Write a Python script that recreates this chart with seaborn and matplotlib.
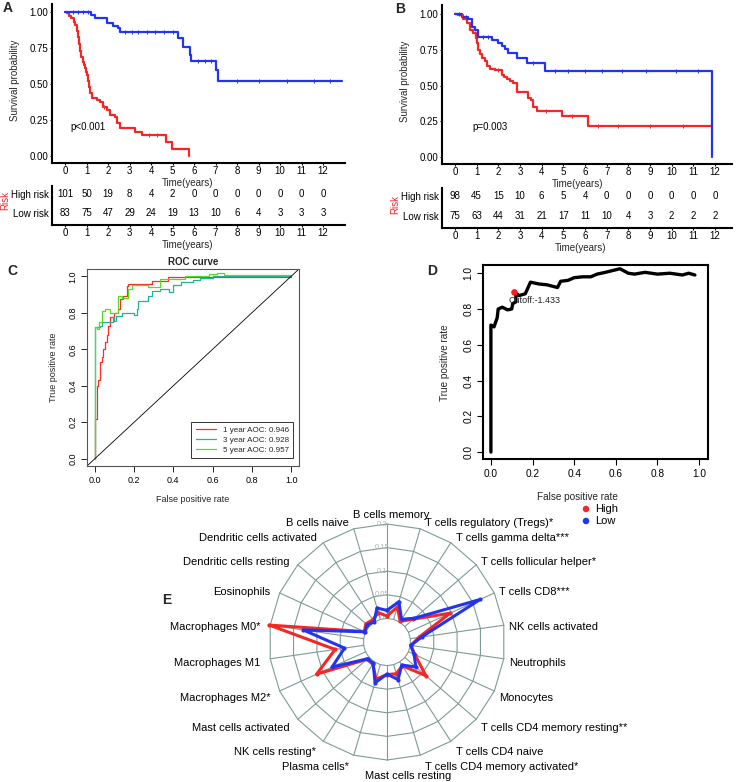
import numpy as np
import pandas as pd
import matplotlib
matplotlib.use('Agg')
import matplotlib.pyplot as plt
import seaborn as sns

sns.set_theme(style='white')
plt.rcParams['font.family'] = ['Liberation Sans', 'DejaVu Sans']
plt.rcParams['axes.unicode_minus'] = False

# ---------------- data ----------------
years = list(range(13))
A_high_risk = [101, 50, 19, 8, 4, 2, 0, 0, 0, 0, 0, 0, 0]
A_low_risk = [83, 75, 47, 29, 24, 19, 13, 10, 6, 4, 3, 3, 3]
B_high_risk = [98, 45, 15, 10, 6, 5, 4, 0, 0, 0, 0, 0, 0]
B_low_risk = [75, 63, 44, 31, 21, 17, 11, 10, 4, 3, 2, 2, 2]

A_high_t = [0, 0.10, 0.20, 0.30, 0.40, 0.47, 0.55, 0.60, 0.65, 0.70, 0.76, 0.82, 0.88, 0.93, 0.98,
            1.04, 1.08, 1.12, 1.16, 1.24, 1.47, 1.63, 1.78, 1.94, 2.09, 2.33, 2.40, 2.56, 3.26, 3.60,
            4.68, 4.99, 5.75]
A_high_s = [1.0, 0.99, 0.97, 0.956, 0.93, 0.91, 0.87, 0.83, 0.78, 0.73, 0.69, 0.655, 0.63, 0.608, 0.585,
            0.562, 0.52, 0.48, 0.435, 0.40, 0.389, 0.377, 0.343, 0.32, 0.285, 0.273, 0.23, 0.194, 0.167, 0.144,
            0.097, 0.049, 0.0]
A_low_t = [0, 1.19, 1.40, 1.94, 2.25, 2.48, 2.56, 5.27, 5.47, 5.81, 5.86, 7.01, 7.12, 12.87]
A_low_s = [1.0, 0.979, 0.956, 0.926, 0.905, 0.886, 0.862, 0.817, 0.759, 0.705, 0.66, 0.60, 0.522, 0.522]
A_low_cens = [0.35, 0.6, 0.85, 1.05, 2.8, 3.1, 3.4, 3.8, 4.2, 4.6, 5.0, 6.2, 6.5, 6.8, 8.0, 9.0, 10.3, 11.6, 12.3]
A_high_cens = [1.8, 3.9, 4.3]

B_high_t = [0, 0.15, 0.38, 0.54, 0.69, 0.85, 0.97, 1.03, 1.08, 1.15, 1.23, 1.38, 1.46, 1.61, 1.85,
            2.15, 2.25, 2.38, 2.55, 2.69, 2.85, 3.38, 3.50, 3.61, 3.77, 4.92, 6.15, 11.8]
B_high_s = [1.0, 0.99, 0.963, 0.94, 0.888, 0.865, 0.83, 0.80, 0.748, 0.72, 0.69, 0.67, 0.634, 0.615, 0.605,
            0.573, 0.56, 0.543, 0.53, 0.515, 0.457, 0.41, 0.40, 0.352, 0.324, 0.287, 0.217, 0.217]
B_low_t = [0, 0.31, 0.61, 0.77, 0.92, 1.08, 1.69, 2.0, 2.15, 2.30, 2.46, 2.85, 3.31, 4.15, 11.85]
B_low_s = [1.0, 0.98, 0.965, 0.911, 0.888, 0.841, 0.818, 0.795, 0.775, 0.753, 0.725, 0.69, 0.66, 0.60, 0.0]
B_low_cens = [0.2, 0.5, 1.3, 1.5, 3.6, 4.6, 5.2, 6.0, 6.8, 7.7, 8.8, 10.2, 11.2]
B_high_cens = [0.3, 0.9, 2.0, 4.2, 5.4, 6.6, 7.5, 9.0, 10.5]

roc1_fpr = [0, 0, 0.009, 0.017, 0.026, 0.034, 0.043, 0.051, 0.06, 0.068, 0.077, 0.10, 0.12, 0.128, 0.145,
            0.162, 0.17, 0.29, 0.374, 1.0]
roc1_tpr = [0, 0.22, 0.40, 0.43, 0.53, 0.555, 0.60, 0.64, 0.68, 0.73, 0.775, 0.80, 0.82, 0.875, 0.89,
            0.947, 0.956, 0.974, 0.998, 0.998]
roc3_fpr = [0, 0, 0.026, 0.034, 0.094, 0.10, 0.11, 0.14, 0.20, 0.214, 0.22, 0.27, 0.29, 0.33, 0.38,
            0.40, 0.44, 0.50, 0.535, 0.60, 1.0]
roc3_tpr = [0, 0.72, 0.73, 0.747, 0.775, 0.755, 0.78, 0.80, 0.79, 0.82, 0.865, 0.89, 0.92, 0.93, 0.915,
            0.95, 0.97, 0.98, 0.99, 1.0, 1.0]
roc5_fpr = [0, 0, 0.01, 0.02, 0.034, 0.051, 0.077, 0.11, 0.12, 0.14, 0.17, 0.187, 0.23, 0.27, 0.32,
            0.33, 0.44, 0.46, 0.58, 0.62, 0.66, 1.0]
roc5_tpr = [0, 0.72, 0.71, 0.75, 0.81, 0.82, 0.80, 0.80, 0.89, 0.88, 0.93, 0.955, 0.955, 0.94, 0.94,
            0.985, 0.985, 1.0, 1.01, 1.02, 1.005, 1.0]
roc_labels = ['1 year AOC: 0.946', '3 year AOC: 0.928', '5 year AOC: 0.957']

cut_fpr = [0, 0, 0.015, 0.03, 0.035, 0.055, 0.08, 0.10, 0.105, 0.12, 0.12, 0.135, 0.15, 0.165, 0.19,
           0.23, 0.27, 0.32, 0.335, 0.37, 0.40, 0.44, 0.48, 0.51, 0.55, 0.62, 0.66, 0.69, 0.74, 0.80,
           0.86, 0.92, 0.95, 0.98]
cut_tpr = [0, 0.71, 0.70, 0.75, 0.80, 0.81, 0.795, 0.80, 0.83, 0.84, 0.89, 0.875, 0.88, 0.885, 0.95,
           0.94, 0.935, 0.92, 0.955, 0.96, 0.975, 0.98, 0.98, 0.995, 1.005, 1.025, 1.0, 0.995, 1.005, 0.995,
           1.0, 0.99, 1.0, 0.99]
cutoff_point = (0.113, 0.893)
cutoff_label = 'Cutoff:-1.433'

cells = ["B cells memory", "T cells regulatory (Tregs)*", "T cells gamma delta***",
         "T cells follicular helper*", "T cells CD8***", "NK cells activated", "Neutrophils",
         "Monocytes", "T cells CD4 memory resting**", "T cells CD4 naive",
         "T cells CD4 memory activated*", "Mast cells resting", "Plasma cells*", "NK cells resting*",
         "Mast cells activated", "Macrophages M2*", "Macrophages M1", "Macrophages M0*",
         "Eosinophils", "Dendritic cells resting", "Dendritic cells activated", "B cells naive"]
high_vals = [0.005, 0.027, 0.002, 0.024, 0.097, 0.018, 0.001, 0.015, 0.059, 0.010, 0.020,
             0.019, 0.032, 0.006, 0.006, 0.114, 0.061, 0.202, 0.003, 0.009, 0.006, 0.015]
low_vals = [0.017, 0.039, 0.007, 0.027, 0.167, 0.024, 0.001, 0.013, 0.031, 0.008, 0.033,
            0.018, 0.040, 0.004, 0.004, 0.078, 0.041, 0.129, 0.002, 0.005, 0.001, 0.025]
ring_vals = [0, 0.05, 0.1, 0.15, 0.2]
ring_labels = ['0', '0.05', '0.1', '0.15', '0.2']

RED = '#F42626'
BLUE = '#2234F0'

# ---------------- figure ----------------
W, H = 737, 782
fig = plt.figure(figsize=(W / 100, H / 100), dpi=100)


def add_ax(l, t, r, b):
    return fig.add_axes([l / W, 1 - b / H, (r - l) / W, (b - t) / H])


def ftext(x, y, s, **kw):
    fig.text(x / W, 1 - y / H, s, **kw)


def step_at(ts, ss, t):
    idx = np.searchsorted(np.array(ts), t, side='right') - 1
    return np.array(ss)[idx]


def km_panel(main_box, tab_box, xlim, ylim, ht, hs, lt, ls, hc, lc, hr, lr, ptxt, pxy,
             lab1, lab2, ylab_x):
    ax = add_ax(*main_box)
    sns.lineplot(x=ht, y=hs, ax=ax, color=RED, lw=1.6, drawstyle='steps-post',
                 estimator=None, sort=False, legend=False)
    sns.lineplot(x=lt, y=ls, ax=ax, color=BLUE, lw=1.6, drawstyle='steps-post',
                 estimator=None, sort=False, legend=False)
    ax.plot(hc, step_at(ht, hs, hc), '|', color=RED, ms=3, mew=0.7)
    ax.plot(lc, step_at(lt, ls, lc), '|', color=BLUE, ms=3, mew=0.7)
    ax.set_xlim(*xlim)
    ax.set_ylim(*ylim)
    ax.set_xticks(years)
    ax.set_yticks([0, 0.25, 0.5, 0.75, 1.0])
    ax.set_yticklabels(['0.00', '0.25', '0.50', '0.75', '1.00'])
    for s in ['top', 'right']:
        ax.spines[s].set_visible(False)
    for s in ['left', 'bottom']:
        ax.spines[s].set_linewidth(1.5)
        ax.spines[s].set_color('black')
    ax.tick_params(bottom=True, left=True, length=1.5, width=0.8, colors='black',
                   labelsize=7, pad=1)
    ax.set_xlabel('')
    ax.set_ylabel('')
    ftext(ylab_x, (main_box[1] + main_box[3]) / 2 - 3, 'Survival probability', fontsize=7,
          rotation=90, ha='center', va='center')
    ftext(lab1[0], lab1[1], 'Time(years)', fontsize=7, ha='center', va='center')
    ax.text(pxy[0], pxy[1], ptxt, fontsize=7, ha='left', va='center', color='black')

    tb = add_ax(*tab_box)
    tb.set_xlim(*xlim)
    tb.set_ylim(-0.6, 1.4)
    for yr, n1, n2 in zip(years, hr, lr):
        tb.text(yr, 1, str(n1), ha='center', va='center', fontsize=7, color='black')
        tb.text(yr, 0, str(n2), ha='center', va='center', fontsize=7, color='black')
    tb.set_xticks(years)
    tb.set_yticks([1, 0])
    tb.set_yticklabels(['High risk', 'Low risk'])
    for s in ['top', 'right']:
        tb.spines[s].set_visible(False)
    for s in ['left', 'bottom']:
        tb.spines[s].set_linewidth(1.5)
        tb.spines[s].set_color('black')
    tb.tick_params(axis='x', bottom=True, length=1.5, width=0.8, colors='black', labelsize=7, pad=1)
    tb.tick_params(axis='y', left=False, length=0, colors='black', labelsize=7, pad=2)
    tb.set_xlabel('')
    tb.set_ylabel('')
    ftext(lab2[0], lab2[1], 'Time(years)', fontsize=7, ha='center', va='center')
    return ax, tb


km_panel((52, 4, 345, 163), (52, 186, 345, 225), (-0.605, 13.02), (-0.049, 1.056),
         A_high_t, A_high_s, A_low_t, A_low_s, A_high_cens, A_low_cens,
         A_high_risk, A_low_risk, 'p<0.001', (0.23, 0.20), (188, 183), (188, 245), 15)
km_panel((442, 5, 732, 164), (442, 188, 732, 228), (-0.6, 12.78), (-0.049, 1.063),
         B_high_t, B_high_s, B_low_t, B_low_s, B_high_cens, B_low_cens,
         B_high_risk, B_low_risk, 'p=0.003', (0.78, 0.21), (578, 184), (581, 248), 405)
ftext(5, 200, 'Risk', rotation=90, color=RED, fontsize=7, ha='center', va='center')
ftext(395, 205, 'Risk', rotation=90, color=RED, fontsize=7, ha='center', va='center')

# ---------------- C: ROC ----------------
axc = add_ax(87, 269, 299, 466)
for f, t, c, lab in zip([roc1_fpr, roc3_fpr, roc5_fpr], [roc1_tpr, roc3_tpr, roc5_tpr],
                        ['#FF2A2A', '#1FB39F', '#55DD22'], roc_labels):
    sns.lineplot(x=f, y=t, ax=axc, color=c, lw=0.9, drawstyle='steps-post',
                 estimator=None, sort=False, label=lab)
axc.axline((0, 0), (1, 1), color='black', lw=0.6)
axc.set_xlim(-0.04, 1.04)
axc.set_ylim(-0.04, 1.04)
ticks = [0, 0.2, 0.4, 0.6, 0.8, 1.0]
axc.set_xticks(ticks)
axc.set_yticks(ticks)
axc.set_xticklabels(['0.0', '0.2', '0.4', '0.6', '0.8', '1.0'])
axc.set_yticklabels(['0.0', '0.2', '0.4', '0.6', '0.8', '1.0'], rotation=90, va='center')
for s in axc.spines.values():
    s.set_linewidth(0.8)
    s.set_color('#555555')
axc.tick_params(bottom=True, left=True, length=4, width=0.6, colors='black', labelsize=6.5, pad=3)
leg = axc.legend(loc='lower right', bbox_to_anchor=(0.972, 0.04), borderaxespad=0, fontsize=5.8,
                 frameon=True, fancybox=False, edgecolor='#333333', framealpha=1,
                 handlelength=2.6, handletextpad=0.8, borderpad=0.5, labelspacing=0.3)
leg.get_frame().set_linewidth(0.7)
ftext(193, 262, 'ROC curve', fontsize=7, fontweight='bold', ha='center', va='center')
ftext(193, 500, 'False positive rate', fontsize=6.5, ha='center', va='center')
ftext(53, 367, 'True positive rate', fontsize=6.5, rotation=90, ha='center', va='center')

# ---------------- D: cutoff ROC ----------------
axd = add_ax(483, 265, 708, 459)
sns.lineplot(x=cut_fpr, y=cut_tpr, ax=axd, color='black', lw=2.4, estimator=None, sort=False,
             legend=False)
axd.scatter([cutoff_point[0]], [cutoff_point[1]], s=22, color='#FF1A1A', zorder=5, edgecolor='none')
axd.text(0.085, 0.845, cutoff_label, fontsize=6.5, ha='left', va='center', color='#222222')
axd.set_xlim(-0.038, 1.043)
axd.set_ylim(-0.039, 1.046)
axd.set_xticks(ticks)
axd.set_yticks(ticks)
axd.set_xticklabels(['0.0', '0.2', '0.4', '0.6', '0.8', '1.0'])
axd.set_yticklabels(['0.0', '0.2', '0.4', '0.6', '0.8', '1.0'], rotation=90, va='center')
for s in axd.spines.values():
    s.set_linewidth(1.5)
    s.set_color('black')
axd.tick_params(bottom=True, left=True, length=4, width=0.8, colors='black', labelsize=7.3, pad=3)
ftext(577, 497, 'False positive rate', fontsize=7.2, ha='center', va='center')
ftext(445, 363, 'True positive rate', fontsize=7.2, rotation=90, ha='center', va='center')

# ---------------- E: radar ----------------
axe = add_ax(0, 480, 737, 782)
cx, cy, R = 387, 642, 118
n = len(cells)
ang = np.deg2rad(90 - np.arange(n) * 360 / n)
GRID = '#7F9B98'


def rad(v):
    return R * (0.2 + 4 * np.asarray(v))


for rv in ring_vals:
    r = rad(rv)
    xs = np.append(cx + r * np.cos(ang), cx + r * np.cos(ang[0]))
    ys = np.append(cy - r * np.sin(ang), cy - r * np.sin(ang[0]))
    axe.plot(xs, ys, color=GRID, lw=0.8, zorder=1)
for a in ang:
    axe.plot([cx + rad(0) * np.cos(a), cx + R * np.cos(a)],
             [cy - rad(0) * np.sin(a), cy - R * np.sin(a)], color=GRID, lw=0.8, zorder=1)
for rv, lab in zip(ring_vals, ring_labels):
    axe.text(cx - 5, cy - rad(rv), lab, fontsize=5.5, color='#AEB6B6', ha='center', va='center', zorder=2)

for vals, col in [(high_vals, RED), (low_vals, BLUE)]:
    r = rad(vals)
    xs = np.append(cx + r * np.cos(ang), cx + r[0] * np.cos(ang[0]))
    ys = np.append(cy - r * np.sin(ang), cy - r[0] * np.sin(ang[0]))
    sns.lineplot(x=xs, y=ys, ax=axe, color=col, lw=2.2, estimator=None, sort=False,
                 marker='o', markersize=3, markeredgewidth=0, legend=False, zorder=3)
axe.set_xlim(0, 737)
axe.set_ylim(782, 480)
axe.axis('off')

for lab, a in zip(cells, ang):
    c, s = np.cos(a), np.sin(a)
    ex, ey = cx + R * c, cy - R * s
    if abs(c) < 0.1:
        if s > 0:
            axe.text(ex + 4, ey - 4, lab, fontsize=8, ha='center', va='bottom', color='black')
        else:
            axe.text(ex + 21, ey + 16, lab, fontsize=8, ha='center', va='center', color='black')
    elif c > 0:
        axe.text(ex + 5, ey + 3 - 9 * s, lab, fontsize=8, ha='left', va='center', color='black')
    else:
        axe.text(ex - (3 + 7 * abs(c)), ey + 3 - 9 * s, lab, fontsize=8, ha='right', va='center',
                 color='black')

# legend High / Low
axe.scatter([586, 586], [509, 521], s=22, color=[RED, BLUE], edgecolor='none', zorder=5)
axe.text(595, 509, 'High', fontsize=8, ha='left', va='center', color='black')
axe.text(595, 521, 'Low', fontsize=8, ha='left', va='center', color='black')

# panel letters
for x, y, s in [(8, 8, 'A'), (400, 9, 'B'), (12, 271, 'C'), (432, 271, 'D'), (167, 600, 'E')]:
    ftext(x, y, s, fontsize=10, fontweight='bold', ha='center', va='center')

fig.savefig('out.png', dpi=100)
